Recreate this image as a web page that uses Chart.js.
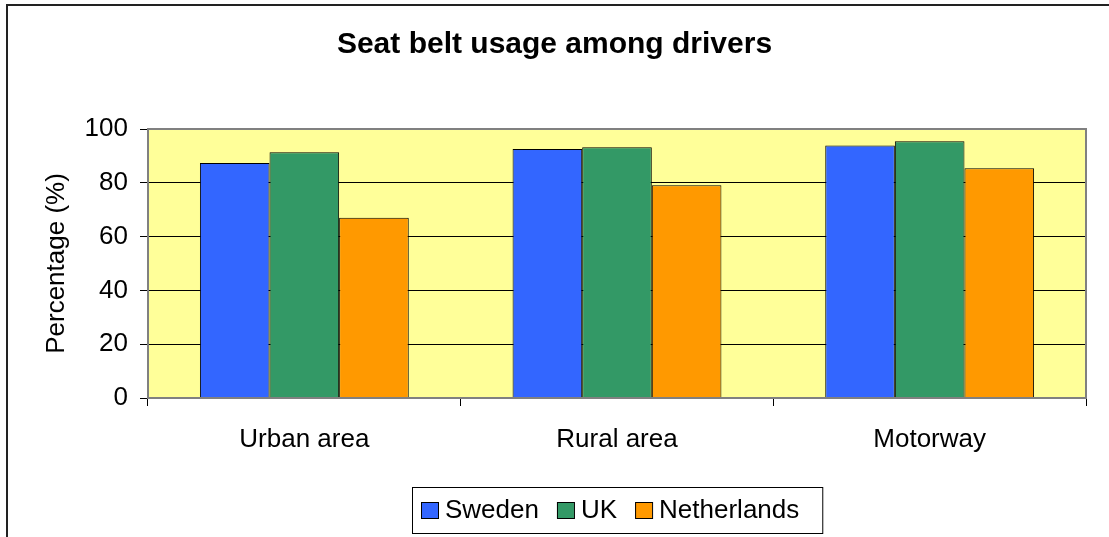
<!DOCTYPE html>
<html>
<head>
<meta charset="utf-8">
<script src="https://cdn.jsdelivr.net/npm/chart.js@4/dist/chart.umd.min.js"></script>
<style>
  html, body { margin: 0; padding: 0; background: #fff; }
  #wrap { width: 1109px; height: 537px; }
</style>
</head>
<body>
<div id="wrap"><canvas id="beltChart" width="1109" height="537"></canvas></div>
<script>
////Chart data
const CATEGORIES = ["Urban area", "Rural area", "Motorway"];
const SERIES = ["Sweden", "UK", "Netherlands"];
const SWEDEN = [87.4, 92.6, 93.9];
const UK = [91.4, 93.2, 95.4];
const NETHERLANDS = [67.0, 79.1, 85.4];
const Y_TICKS = [0, 20, 40, 60, 80, 100];
const COLORS = ["#3366FF", "#339966", "#FF9900"];

const FONT = "Arial, 'Liberation Sans', sans-serif";

//Yellow plot background, grey plot frame and the outer chart frame
const framePlugin = {
    id: 'frame',
    beforeDraw(chart) {
        const {ctx, chartArea: a} = chart;
        ctx.save();
        ctx.fillStyle = '#FFFF99';
        ctx.fillRect(a.left, a.top, a.right - a.left, a.bottom - a.top);
        ctx.restore();
    },
    afterDatasetsDraw(chart) {
        const {ctx, chartArea: a} = chart;
        ctx.save();
        ctx.strokeStyle = '#808080';
        ctx.lineWidth = 2;
        ctx.strokeRect(a.left, a.top, a.right - a.left, a.bottom - a.top);
        ctx.restore();
    },
    afterDraw(chart) {
        const ctx = chart.ctx;
        ctx.save();
        ctx.strokeStyle = '#222';
        ctx.lineWidth = 2;
        ctx.beginPath();
        ctx.moveTo(7, chart.height);
        ctx.lineTo(7, 5);
        ctx.lineTo(chart.width, 5);
        ctx.stroke();
        ctx.restore();
    }
};

//Legend in a box under the plot, centred on the plot area
const boxLegendPlugin = {
    id: 'boxLegend',
    afterDraw(chart) {
        const {ctx, chartArea: a} = chart;
        const sets = chart.data.datasets;
        ctx.save();
        ctx.font = "26px " + FONT;
        let sq = 17, gap = 7, itemGap = 18;
        let widths = sets.map(d => ctx.measureText(d.label).width);
        let inner = 0;
        widths.forEach((w, i) => { inner += sq + gap + w + (i < widths.length - 1 ? itemGap : 0); });
        let padL = 9, padR = 23;
        let boxW = inner + padL + padR;
        let boxL = Math.round((a.left + a.right) / 2 - boxW / 2);
        let boxT = 487, boxH = 46;
        ctx.fillStyle = '#fff';
        ctx.fillRect(boxL, boxT, boxW, boxH);
        ctx.strokeStyle = '#000';
        ctx.lineWidth = 1;
        ctx.strokeRect(boxL + 0.5, boxT + 0.5, boxW, boxH);
        let x = boxL + padL;
        let cy = boxT + boxH / 2;
        sets.forEach((d, i) => {
            ctx.fillStyle = d.backgroundColor;
            ctx.fillRect(x, cy - 8, sq, 16);
            ctx.strokeRect(x + 0.5, cy - 8 + 0.5, sq, 16);
            ctx.fillStyle = '#000';
            ctx.textBaseline = 'middle';
            ctx.textAlign = 'left';
            ctx.fillText(d.label, x + sq + gap, cy + 1);
            x += sq + gap + widths[i] + itemGap;
        });
        ctx.restore();
    }
};

var ctx = document.getElementById("beltChart").getContext('2d');
var beltChart = new Chart(ctx, {
    type: 'bar',
    data: {
        labels: CATEGORIES,
        datasets: [SWEDEN, UK, NETHERLANDS].map((vals, i) => ({
            label: SERIES[i],
            data: vals,
            backgroundColor: COLORS[i],
            borderColor: '#000',
            borderWidth: 1,
            borderSkipped: 'bottom',
            categoryPercentage: 0.668,
            barPercentage: 1
        }))
    },
    options: {
        responsive: false,
        animation: false,
        layout: { padding: 0 },
        plugins: {
            legend: { display: false },
            tooltip: { enabled: false },
            title: {
                display: true,
                text: 'Seat belt usage among drivers',
                color: '#000',
                font: { family: FONT, size: 30, weight: 'bold' },
                padding: { top: 27, bottom: 66 }
            }
        },
        scales: {
            x: {
                grid: { drawOnChartArea: false, offset: true, tickLength: 8, tickColor: '#000' },
                border: { display: false },
                ticks: { color: '#000', font: { family: FONT, size: 26 }, padding: 18, maxRotation: 0 },
                afterFit(s) { s.height = 139; }
            },
            y: {
                min: 0,
                max: 100,
                afterBuildTicks(s) { s.ticks = Y_TICKS.map(v => ({ value: v })); },
                grid: {
                    tickLength: 8,
                    tickColor: '#000',
                    color: c => (c.tick && (c.tick.value === 0 || c.tick.value === 100)) ? 'rgba(0,0,0,0)' : '#000'
                },
                border: { display: false },
                ticks: { color: '#000', font: { family: FONT, size: 26 }, padding: 12 },
                title: {
                    display: true,
                    text: 'Percentage (%)',
                    color: '#000',
                    font: { family: FONT, size: 26 },
                    padding: { top: 41, bottom: 0 }
                },
                afterFit(s) { s.width = 148; }
            },
            yr: {
                position: 'right',
                display: true,
                grid: { display: false },
                border: { display: false },
                ticks: { display: false },
                afterFit(s) { s.width = 23; }
            }
        }
    },
    plugins: [framePlugin, boxLegendPlugin]
});
</script>
</body>
</html>
